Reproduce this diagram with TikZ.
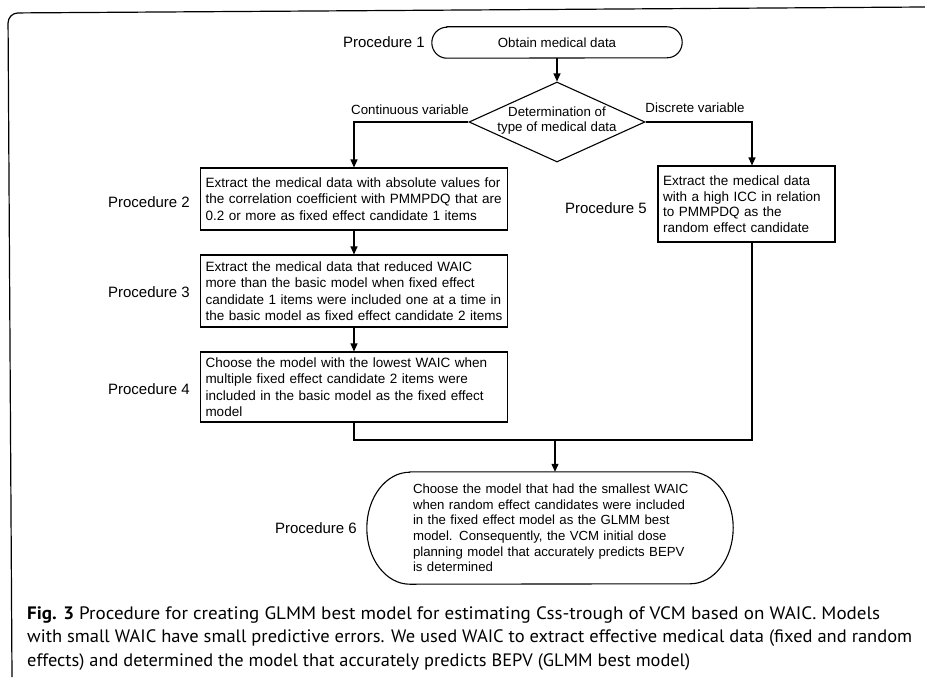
\documentclass[tikz,border=0pt]{standalone}
\usepackage{fontspec}
\usepackage{graphicx}
\setmainfont{Liberation Sans}
\newfontfamily\capfont{PT Sans}
\usetikzlibrary{arrows.meta,shapes.geometric,calc}
\begin{document}
\begin{tikzpicture}[x=1pt,y=-1pt,
  every node/.style={inner sep=0pt},
  proc/.style={font=\fontsize{15}{18}\selectfont, anchor=east},
  smalltxt/.style={font=\fontsize{13.3}{15}\selectfont},
  box/.style={draw, line width=1.1pt, align=left, font=\fontsize{13.5}{16.5}\selectfont, inner xsep=5pt},
  conn/.style={line width=1.1pt},
  arr/.style={line width=1.1pt, -{Triangle[length=8pt,width=7pt]}},
  capnode/.style={anchor=base west, font=\capfont\fontsize{18}{21}\selectfont},
]
\useasboundingbox (0,0) rectangle (925,677);
\fill[white] (0,0) rectangle (925,677);
% frame
\draw[line width=1.2pt, rounded corners=10pt] (12,677) -- (8,13) -- (925,7);

% procedure 1 terminal
\node[smalltxt, minimum width=250pt, minimum height=31pt] (p1) at (557,42.5) {Obtain medical data};
\draw[conn] ([xshift=15pt]p1.north west) -- ([xshift=-15pt]p1.north east)
  arc[start angle=90, end angle=-90, x radius=15pt, y radius=15.5pt]
  -- ([xshift=15pt]p1.south west)
  arc[start angle=270, end angle=90, x radius=15pt, y radius=15.5pt] -- cycle;

% decision
\node[diamond, draw, line width=1.1pt, minimum width=176pt, minimum height=80pt] (dia) at (557,122) {};
\node[smalltxt, align=center] (diatxt) at (557,120.5) {Determination of\\type of medical data};
\node[smalltxt] (cont) at (410,110) {Continuous variable};
\node[smalltxt] (disc) at (695,108) {Discrete variable};

% boxes
\node[box, minimum width=307pt, minimum height=62pt, text width=297pt] (b2) at (354,199)
  {\mbox{Extract the medical data with absolute values for}\\\mbox{the correlation coefficient with PMMPDQ that are}\\\mbox{0.2 or more as fixed effect candidate 1 items}};
\node[box, minimum width=307pt, minimum height=72pt, text width=297pt] (b3) at (354,291)
  {\mbox{Extract the medical data that reduced WAIC}\\\mbox{more than the basic model when fixed effect}\\\mbox{candidate 1 items were included one at a time in}\\\mbox{the basic model as fixed effect candidate 2 items}};
\node[box, minimum width=307pt, minimum height=70pt, text width=297pt] (b4) at (354,387)
  {\mbox{Choose the model with the lowest WAIC when}\\\mbox{multiple fixed effect candidate 2 items were}\\\mbox{included in the basic model as the fixed effect}\\\mbox{model}};
\node[box, minimum width=177pt, minimum height=76pt, text width=167pt, font=\fontsize{13.5}{15.5}\selectfont] (b5) at (746.5,204)
  {\mbox{Extract the medical data}\\\mbox{with a high ICC in relation}\\\mbox{to PMMPDQ as the}\\\mbox{random effect candidate}};

% procedure 6 terminal
\node[align=left, text width=274pt, minimum width=366pt, minimum height=112pt, font=\fontsize{13.2}{15.6}\selectfont] (p6) at (550,528)
  {\mbox{Choose the model that had the smallest WAIC}\\\mbox{when random effect candidates were included}\\\mbox{in the fixed effect model as the GLMM best}\\\mbox{model. Consequently, the VCM initial dose}\\\mbox{planning model that accurately predicts BEPV}\\\mbox{is determined}};
\draw[conn] ([xshift=43pt]p6.north west) -- ([xshift=-43pt]p6.north east)
  arc[start angle=90, end angle=-90, x radius=43pt, y radius=56pt]
  -- ([xshift=43pt]p6.south west)
  arc[start angle=270, end angle=90, x radius=43pt, y radius=56pt] -- cycle;

% procedure labels
\node[proc] (l1) at (425,42) {Procedure 1};
\node[proc] (l2) at (190,202) {Procedure 2};
\node[proc] (l3) at (190,292) {Procedure 3};
\node[proc] (l4) at (190,389) {Procedure 4};
\node[proc] (l5) at (647,208) {Procedure 5};
\node[proc] (l6) at (357,528) {Procedure 6};

% connectors
\coordinate (b5n) at ([xshift=5.5pt]b5.north);
\coordinate (b5s) at ([xshift=5.5pt]b5.south);
\coordinate (m) at (555,440);
\draw[arr] (p1.south) -- (dia.north);
\draw[arr] (dia.west) -| (b2.north);
\draw[arr] (dia.east) -| (b5n);
\draw[arr] (b2) -- (b3);
\draw[arr] (b3) -- (b4);
\draw[conn] (b4.south) |- (b5s |- m) -- (b5s);
\draw[arr] (m) -- (m |- p6.north);

% caption
\node[capnode] (c1) at (27,619) {\resizebox{853pt}{\height}{\textbf{Fig. 3} Procedure for creating GLMM best model for estimating Css-trough of VCM based on WAIC. Models}};
\node[capnode] (c2) at (27,642.5) {\resizebox{885pt}{\height}{with small WAIC have small predictive errors. We used WAIC to extract effective medical data (fixed and random}};
\node[capnode] (c3) at (27,666) {\resizebox{663pt}{\height}{effects) and determined the model that accurately predicts BEPV (GLMM best model)}};
\end{tikzpicture}
\end{document}
